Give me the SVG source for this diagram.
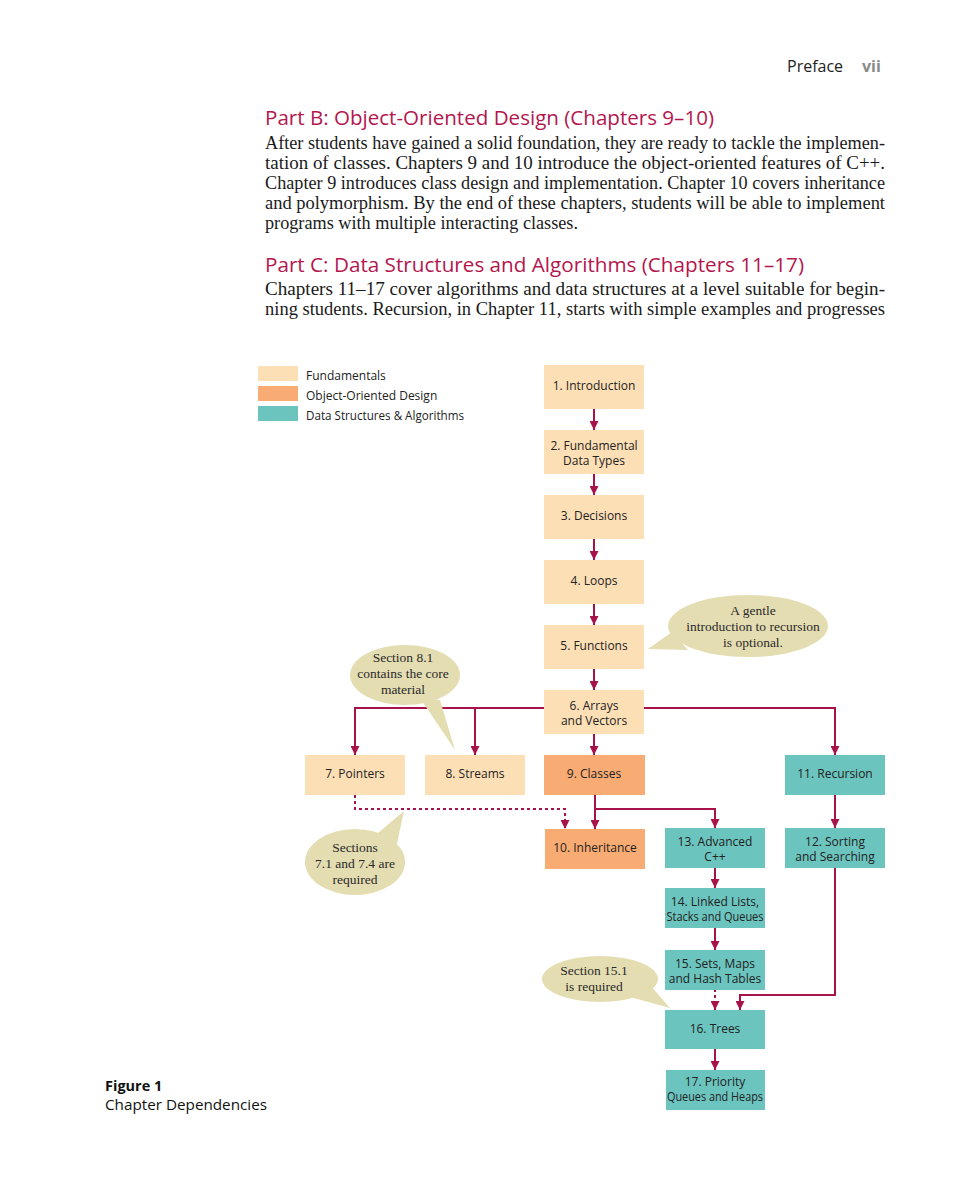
<svg xmlns="http://www.w3.org/2000/svg" width="960" height="1200" viewBox="0 0 960 1200">
<defs>
<style>
.pg{font-family:"Open Sans","Noto Sans","DejaVu Sans",sans-serif;}
.body{font-family:"Liberation Serif","Times New Roman",serif;font-size:18px;fill:#1a1a1a;}
.head{font-family:"Open Sans","Noto Sans",sans-serif;font-size:20px;fill:#b3174e;}
.nt{font-family:"Open Sans","Noto Sans",sans-serif;font-size:12px;fill:#222;text-anchor:middle;}
.lg{font-family:"Open Sans","Noto Sans",sans-serif;font-size:12px;fill:#222;}
.bt{font-family:"Liberation Serif","Times New Roman",serif;font-size:13.5px;fill:#2a2a2a;text-anchor:middle;}
.fund{fill:#fddfb6;}
.ood{fill:#f8ab72;}
.ds{fill:#6cc4be;}
.bub{fill:#e4ddb2;}
.con{fill:none;stroke:#a8124a;stroke-width:2;}
.dot{stroke-dasharray:3 3;}
</style>
<marker id="ah" viewBox="0 0 10 10" refX="10" refY="5" markerWidth="9" markerHeight="9" markerUnits="userSpaceOnUse" orient="auto">
<path d="M0,0 L10,5 L0,10 z" fill="#a8124a"/>
</marker>
</defs>
<rect width="960" height="1200" fill="#ffffff"/>

<g id="page-header">
<text class="pg" x="787" y="72" font-size="16" fill="#222">Preface</text>
<text class="pg" x="862" y="72" font-size="16" font-weight="bold" fill="#8a8a8a">vii</text>
</g>

<g id="part-b">
<text class="head" x="265" y="125" textLength="449" lengthAdjust="spacingAndGlyphs">Part B: Object-Oriented Design (Chapters 9–10)</text>
<text class="body" x="265" y="149" textLength="620" lengthAdjust="spacingAndGlyphs">After students have gained a solid foundation, they are ready to tackle the implemen-</text>
<text class="body" x="265" y="169" textLength="620" lengthAdjust="spacingAndGlyphs">tation of classes. Chapters 9 and 10 introduce the object-oriented features of C++.</text>
<text class="body" x="265" y="189" textLength="620" lengthAdjust="spacingAndGlyphs">Chapter 9 introduces class design and implementation. Chapter 10 covers inheritance</text>
<text class="body" x="265" y="209" textLength="620" lengthAdjust="spacingAndGlyphs">and polymorphism. By the end of these chapters, students will be able to implement</text>
<text class="body" x="265" y="229" textLength="313" lengthAdjust="spacingAndGlyphs">programs with multiple interacting classes.</text>
</g>

<g id="part-c">
<text class="head" x="265" y="272" textLength="539" lengthAdjust="spacingAndGlyphs">Part C: Data Structures and Algorithms (Chapters 11–17)</text>
<text class="body" x="265" y="295" textLength="620" lengthAdjust="spacingAndGlyphs">Chapters 11–17 cover algorithms and data structures at a level suitable for begin-</text>
<text class="body" x="265" y="315" textLength="620" lengthAdjust="spacingAndGlyphs">ning students. Recursion, in Chapter 11, starts with simple examples and progresses</text>
</g>

<g id="legend">
<rect class="fund" x="258" y="366" width="40" height="15"/>
<rect class="ood" x="258" y="386" width="40" height="15"/>
<rect class="ds" x="258" y="406" width="40" height="15"/>
<text class="lg" x="306" y="380">Fundamentals</text>
<text class="lg" x="306" y="400">Object-Oriented Design</text>
<text class="lg" x="306" y="420" textLength="158" lengthAdjust="spacingAndGlyphs">Data Structures &amp; Algorithms</text>
</g>

<g id="connectors">
<path class="con" d="M594,409 V430" marker-end="url(#ah)"/>
<path class="con" d="M594,474 V495" marker-end="url(#ah)"/>
<path class="con" d="M594,539 V560" marker-end="url(#ah)"/>
<path class="con" d="M594,604 V625" marker-end="url(#ah)"/>
<path class="con" d="M594,669 V690" marker-end="url(#ah)"/>
<path class="con" d="M544,708 H355 V755" marker-end="url(#ah)"/>
<path class="con" d="M475,708 V755" marker-end="url(#ah)"/>
<path class="con" d="M594,734 V755" marker-end="url(#ah)"/>
<path class="con" d="M644,708 H835 V755" marker-end="url(#ah)"/>
<path class="con" d="M595,795 V829" marker-end="url(#ah)"/>
<path class="con" d="M595,809 H715 V828" marker-end="url(#ah)"/>
<path class="con dot" d="M355,795 V809 H565 V829" marker-end="url(#ah)"/>
<path class="con" d="M835,795 V828" marker-end="url(#ah)"/>
<path class="con" d="M835,868 V995 H740 V1010" marker-end="url(#ah)"/>
<path class="con" d="M715,868 V888" marker-end="url(#ah)"/>
<path class="con" d="M715,928 V950" marker-end="url(#ah)"/>
<path class="con dot" d="M715,989 V1010" marker-end="url(#ah)"/>
<path class="con" d="M715,1049 V1070" marker-end="url(#ah)"/>
</g>

<g id="n1"><rect class="fund" x="544" y="365" width="100" height="44"/><text class="nt" x="594" y="390">1. Introduction</text></g>
<g id="n2"><rect class="fund" x="544" y="430" width="100" height="44"/><text class="nt" x="594" y="450">2. Fundamental</text><text class="nt" x="594" y="465">Data Types</text></g>
<g id="n3"><rect class="fund" x="544" y="495" width="100" height="44"/><text class="nt" x="594" y="520">3. Decisions</text></g>
<g id="n4"><rect class="fund" x="544" y="560" width="100" height="44"/><text class="nt" x="594" y="585">4. Loops</text></g>
<g id="n5"><rect class="fund" x="544" y="625" width="100" height="44"/><text class="nt" x="594" y="650">5. Functions</text></g>
<g id="n6"><rect class="fund" x="544" y="690" width="100" height="44"/><text class="nt" x="594" y="710">6. Arrays</text><text class="nt" x="594" y="725">and Vectors</text></g>
<g id="n7"><rect class="fund" x="305" y="755" width="100" height="40"/><text class="nt" x="355" y="778">7. Pointers</text></g>
<g id="n8"><rect class="fund" x="425" y="755" width="100" height="40"/><text class="nt" x="475" y="778">8. Streams</text></g>
<g id="n9"><rect class="ood" x="544" y="755" width="101" height="40"/><text class="nt" x="594" y="778">9. Classes</text></g>
<g id="n10"><rect class="ood" x="545" y="829" width="100" height="40"/><text class="nt" x="595" y="852">10. Inheritance</text></g>
<g id="n11"><rect class="ds" x="785" y="755" width="100" height="40"/><text class="nt" x="835" y="778">11. Recursion</text></g>
<g id="n12"><rect class="ds" x="785" y="828" width="100" height="40"/><text class="nt" x="835" y="846">12. Sorting</text><text class="nt" x="835" y="861">and Searching</text></g>
<g id="n13"><rect class="ds" x="665" y="828" width="100" height="40"/><text class="nt" x="715" y="846">13. Advanced</text><text class="nt" x="715" y="861">C++</text></g>
<g id="n14"><rect class="ds" x="665" y="888" width="100" height="40"/><text class="nt" x="715" y="906">14. Linked Lists,</text><text class="nt" x="715" y="921" textLength="97" lengthAdjust="spacingAndGlyphs">Stacks and Queues</text></g>
<g id="n15"><rect class="ds" x="665" y="950" width="100" height="40"/><text class="nt" x="715" y="968">15. Sets, Maps</text><text class="nt" x="715" y="983">and Hash Tables</text></g>
<g id="n16"><rect class="ds" x="665" y="1010" width="100" height="39"/><text class="nt" x="715" y="1033">16. Trees</text></g>
<g id="n17"><rect class="ds" x="666" y="1070" width="99" height="40"/><text class="nt" x="715" y="1086">17. Priority</text><text class="nt" x="715" y="1101" textLength="96" lengthAdjust="spacingAndGlyphs">Queues and Heaps</text></g>

<g id="bubble-recursion">
<path class="bub" d="M672,632 L648,649 L688,650 z"/>
<ellipse class="bub" cx="748" cy="626" rx="80" ry="31"/>
<text class="bt" x="753" y="615">A gentle</text>
<text class="bt" x="753" y="631">introduction to recursion</text>
<text class="bt" x="753" y="647">is optional.</text>
</g>

<g id="bubble-8-1">
<path class="bub" d="M420,698 L455,750 L440,700 z"/>
<ellipse class="bub" cx="405" cy="675" rx="55" ry="30"/>
<text class="bt" x="403" y="662">Section 8.1</text>
<text class="bt" x="403" y="678">contains the core</text>
<text class="bt" x="403" y="694">material</text>
</g>

<g id="bubble-7-1">
<path class="bub" d="M378,833 L404,811 L396,848 z"/>
<ellipse class="bub" cx="355" cy="862" rx="50" ry="33"/>
<text class="bt" x="355" y="852">Sections</text>
<text class="bt" x="355" y="868">7.1 and 7.4 are</text>
<text class="bt" x="355" y="884">required</text>
</g>

<g id="bubble-15-1">
<path class="bub" d="M630,997 L670,1008 L650,985 z"/>
<ellipse class="bub" cx="600" cy="979" rx="58" ry="23"/>
<text class="bt" x="594" y="975">Section 15.1</text>
<text class="bt" x="594" y="991">is required</text>
</g>

<g id="caption">
<text class="pg" x="105" y="1091" font-size="14.5" font-weight="bold" fill="#111">Figure 1</text>
<text class="pg" x="105" y="1110" font-size="14.5" fill="#111" textLength="162" lengthAdjust="spacingAndGlyphs">Chapter Dependencies</text>
</g>
</svg>
